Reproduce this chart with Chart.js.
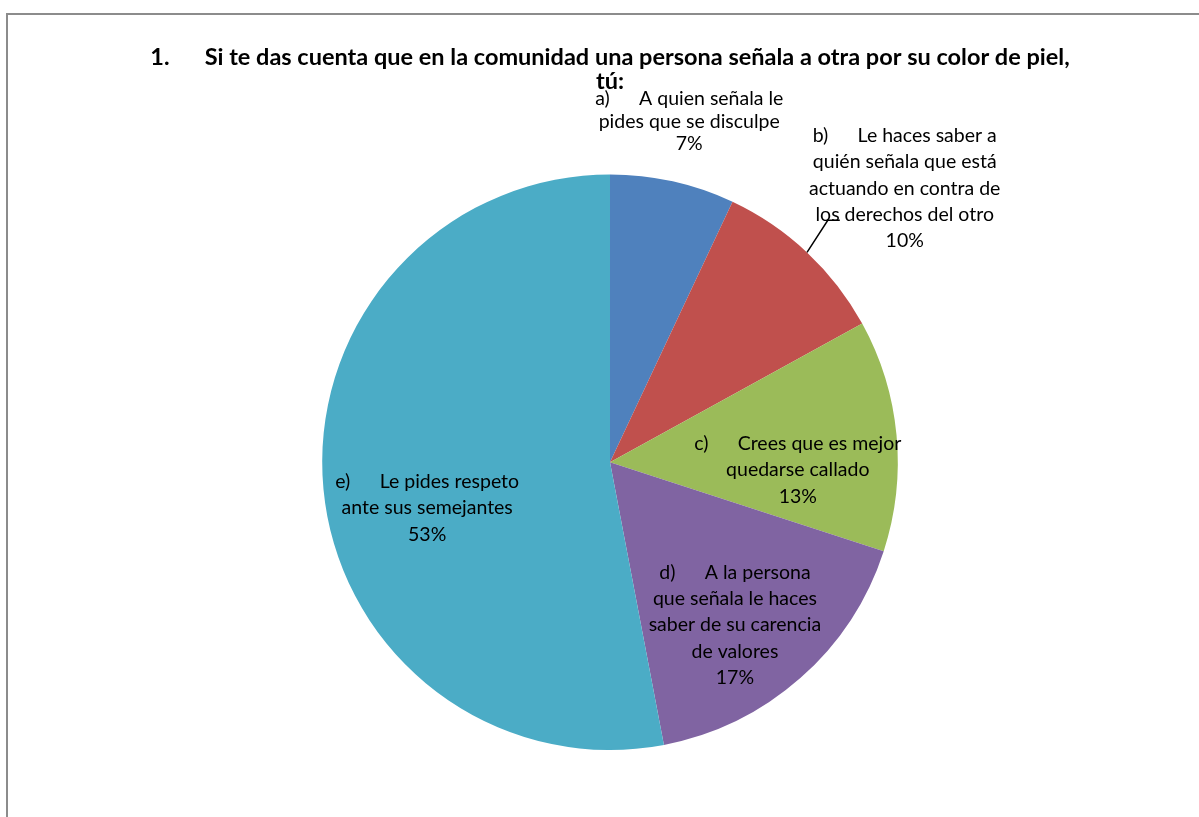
<!DOCTYPE html>
<html>
<head>
<meta charset="utf-8">
<script src="https://cdn.jsdelivr.net/npm/chart.js@4"></script>
<style>
  html, body { margin: 0; padding: 0; background: #fff; overflow: hidden; }
  #wrap { position: relative; width: 1199px; height: 817px; }
  #frame { position: absolute; left: 6px; top: 13px; right: -20px; bottom: -20px;
           border-left: 2px solid #8c8c8c; border-top: 2px solid #8c8c8c; }
  canvas { position: absolute; left: 0; top: 0; }
</style>
</head>
<body>
<div id="wrap">
  <div id="frame"></div>
  <canvas id="pieChart" width="1199" height="817"></canvas>
</div>
<script>
const titleLines = [
  '1.\u2003\u2002 Si te das cuenta que en la comunidad una persona señala a otra por su color de piel,',
  'tú:',
];

const categories = [
  ['a)\u2003\u2002 A quien señala le', 'pides que se disculpe'],
  ['b)\u2003\u2002 Le haces saber a', 'quién señala que está', 'actuando en contra de', 'los derechos del otro'],
  ['c)\u2003\u2002 Crees que es mejor', 'quedarse callado'],
  ['d)\u2003\u2002 A la persona', 'que señala le haces', 'saber de su carencia', 'de valores'],
  ['e)\u2003\u2002 Le pides respeto', 'ante sus semejantes'],
];

const percentages = [7, 10, 13, 17, 53];

const sliceColors = ['#4f81bd', '#c0504d', '#9bbb59', '#8064a2', '#4bacc6'];

// where each label sits, relative to its slice: radius factor and angle shift (deg)
const labelPlacement = [
  { k: 1.215, dA: 0.5 },
  { k: 1.398, dA: 3.9 },
  { k: 0.653, dA: 7.8 },
  { k: 0.713, dA: 3.9 },
  { k: 0.655, dA: -8.7 },
];

const sliceLabels = {
  id: 'sliceLabels',
  afterDatasetsDraw(chart) {
    const { ctx } = chart;
    const arcs = chart.getDatasetMeta(0).data;
    ctx.save();
    ctx.font = '19.5px Lato';
    ctx.fillStyle = '#000';
    ctx.textAlign = 'center';
    ctx.textBaseline = 'middle';
    arcs.forEach((arc, i) => {
      const { x, y, startAngle, endAngle, outerRadius } = arc.getProps(['x', 'y', 'startAngle', 'endAngle', 'outerRadius'], true);
      const mid = (startAngle + endAngle) / 2;
      const p = labelPlacement[i];
      const a = mid + p.dA * Math.PI / 180;
      const cx = x + Math.cos(a) * outerRadius * p.k;
      const cy = y + Math.sin(a) * outerRadius * p.k;
      const lines = categories[i].concat([percentages[i] + '%']);
      const lineH = i === 0 ? 22.5 : 26.3;
      const top = cy - (lines.length - 1) * lineH / 2;
      lines.forEach((t, j) => ctx.fillText(t, cx, top + j * lineH));

      // leader line for the label that sits far from its slice
      if (p.k > 1.3) {
        const x0 = x + Math.cos(mid) * outerRadius;
        const y0 = y + Math.sin(mid) * outerRadius;
        const a1 = mid - 1.2 * Math.PI / 180;
        const x1 = x + Math.cos(a1) * outerRadius * 1.131;
        const y1 = y + Math.sin(a1) * outerRadius * 1.131;
        ctx.beginPath();
        ctx.strokeStyle = '#000';
        ctx.lineWidth = 1.5;
        ctx.moveTo(x0, y0);
        ctx.lineTo(x1, y1);
        ctx.lineTo(x1 + 12, y1);
        ctx.stroke();
      }
    });
    ctx.restore();
  },
};

new Chart(document.getElementById('pieChart'), {
  type: 'pie',
  data: {
    labels: categories.map((c) => c.join(' ')),
    datasets: [{
      data: percentages,
      backgroundColor: sliceColors,
      borderWidth: 0,
    }],
  },
  options: {
    responsive: false,
    animation: false,
    layout: { padding: { left: 21, right: 0, top: 0, bottom: 67 } },
    plugins: {
      legend: { display: false },
      tooltip: { enabled: false },
      title: {
        display: true,
        text: titleLines,
        color: '#000',
        font: { family: 'Lato', size: 23.5, weight: 'bold', lineHeight: 1.03 },
        padding: { top: 45, bottom: 81 },
      },
    },
  },
  plugins: [sliceLabels],
});
</script>
</body>
</html>
